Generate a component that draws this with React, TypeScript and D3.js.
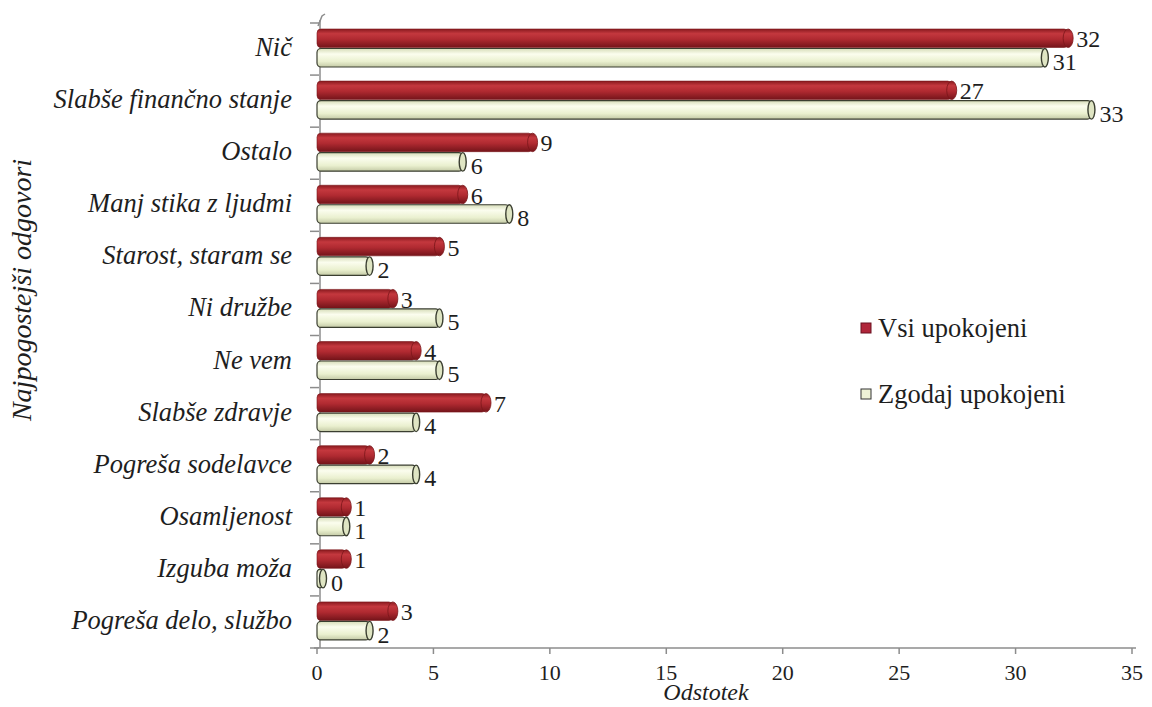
import * as d3 from 'd3';

const categories = [
  'Nič',
  'Slabše finančno stanje',
  'Ostalo',
  'Manj stika z ljudmi',
  'Starost, staram se',
  'Ni družbe',
  'Ne vem',
  'Slabše zdravje',
  'Pogreša sodelavce',
  'Osamljenost',
  'Izguba moža',
  'Pogreša delo, službo',
];
const vsiUpokojeni = [32, 27, 9, 6, 5, 3, 4, 7, 2, 1, 1, 3];
const zgodajUpokojeni = [31, 33, 6, 8, 2, 5, 5, 4, 4, 1, 0, 2];
const seriesNames = ['Vsi upokojeni', 'Zgodaj upokojeni'];
const xTicks = [0, 5, 10, 15, 20, 25, 30, 35];

const W = 1152;
const H = 707;
const FONT = "'Liberation Serif', 'Times New Roman', Tinos";
const TXT = '#1e1e1e';
const AXIS = '#8c8c8c';

const x = d3.scaleLinear().domain([0, 35]).range([317, 1132]);
const y = d3.scaleBand<string>().domain(categories).range([23, 648]).padding(0);
const barH = 18.5;
const depth = 6;

const series = [
  { name: seriesNames[0], values: vsiUpokojeni, fill: 'url(#redG)', cap: 'url(#redG)', stroke: '#7a1519', sw: 0.6, capRx: 5, offset: 6, dy: 9 },
  { name: seriesNames[1], values: zgodajUpokojeni, fill: 'url(#creamG)', cap: '#dfe5c3', stroke: '#3a3e30', sw: 1.2, capRx: 3.5, offset: 6 + barH + 1, dy: 12 },
];

const legendItems = [
  { name: seriesNames[0], fill: '#b0263a', stroke: '#6a1020', y: 328 },
  { name: seriesNames[1], fill: '#eef2d6', stroke: '#333', y: 394 },
];

const ts = (size: number, italic = false) => ({
  fontFamily: FONT,
  fontSize: `${size}px`,
  fontStyle: italic ? 'italic' : 'normal',
  fill: TXT,
});

export default function App() {
  const bandEdges = [...categories.map(c => y(c) as number), 648];
  return (
    <svg width={W} height={H} style={{ display: 'block', position: 'absolute', left: 0, top: 0, background: '#fff', fontFamily: FONT }}>
      <defs>
        <linearGradient id="redG" x1="0" y1="0" x2="0" y2="1">
          <stop offset="0%" stopColor="#8a1a1f" />
          <stop offset="25%" stopColor="#c4383e" />
          <stop offset="55%" stopColor="#b02a31" />
          <stop offset="100%" stopColor="#74141a" />
        </linearGradient>
        <linearGradient id="creamG" x1="0" y1="0" x2="0" y2="1">
          <stop offset="0%" stopColor="#d6dcb8" />
          <stop offset="30%" stopColor="#fbfdee" />
          <stop offset="70%" stopColor="#eaf0cf" />
          <stop offset="100%" stopColor="#c4caa6" />
        </linearGradient>
      </defs>

      {/* wall / y axis */}
      <line x1={320} x2={320} y1={20} y2={648} stroke={AXIS} strokeWidth={1.5} />
      <path d="M318,26 L322,16 L325,14" fill="none" stroke={AXIS} strokeWidth={1.5} />
      {bandEdges.map((d, i) => (
        <line key={i} x1={310} x2={319} y1={d} y2={d} stroke={AXIS} strokeWidth={1.5} />
      ))}

      {/* x axis */}
      <line x1={314} x2={1136} y1={648} y2={648} stroke={AXIS} strokeWidth={1.5} />
      {xTicks.map(t => (
        <g key={t}>
          <line x1={x(t)} x2={x(t)} y1={648} y2={654} stroke={AXIS} strokeWidth={1.5} />
          <text x={x(t)} y={680} textAnchor="middle" style={ts(22)}>{t}</text>
        </g>
      ))}
      <text x={706} y={700} textAnchor="middle" style={ts(24, true)}>Odstotek</text>
      <text transform="translate(31,290) rotate(-90)" textAnchor="middle" style={ts(28, true)}>
        Najpogostejši odgovori
      </text>

      {/* category labels */}
      {categories.map(c => (
        <text key={c} x={292} y={(y(c) as number) + y.bandwidth() / 2 + 7} textAnchor="end" style={ts(26.5, true)}>
          {c}
        </text>
      ))}

      {/* cylinder bars */}
      {series.map(s => (
        <g key={s.name}>
          {categories.map((c, i) => {
            const top = (y(c) as number) + s.offset;
            const end = x(s.values[i]) + depth;
            return (
              <g key={c}>
                <rect x={x(0)} y={top} width={end - x(0)} height={barH} rx={4} fill={s.fill} stroke={s.stroke} strokeWidth={s.sw} />
                <ellipse cx={end} cy={top + barH / 2} rx={s.capRx} ry={barH / 2} fill={s.cap} stroke={s.stroke} strokeWidth={s.sw + 0.2} />
              </g>
            );
          })}
        </g>
      ))}

      {/* value labels drawn last so they sit above neighbouring bars */}
      {series.map(s => (
        <g key={s.name + '-labels'}>
          {categories.map((c, i) => {
            const top = (y(c) as number) + s.offset;
            const end = x(s.values[i]) + depth;
            return (
              <text key={c} x={end + 8} y={top + barH / 2 + s.dy} style={ts(24)}>{s.values[i]}</text>
            );
          })}
        </g>
      ))}

      {/* legend */}
      {legendItems.map(l => (
        <g key={l.name}>
          <rect x={861} y={l.y - 5} width={10} height={10} fill={l.fill} stroke={l.stroke} strokeWidth={1} />
          <text x={878} y={l.y + 9} style={ts(26.5)}>{l.name}</text>
        </g>
      ))}
    </svg>
  );
}
